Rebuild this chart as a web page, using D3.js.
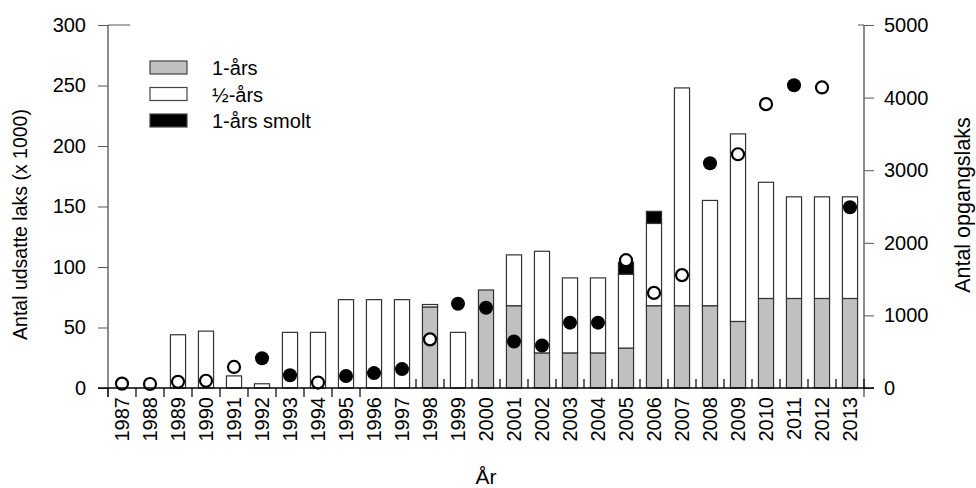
<!DOCTYPE html>
<html><head><meta charset="utf-8">
<script src="https://cdn.jsdelivr.net/npm/d3@7"></script>
<style>body{margin:0;background:#fff}svg{display:block}text{font-family:Arial,"Liberation Sans",sans-serif;fill:#000}</style>
</head><body>
<script>
const years = [1987,1988,1989,1990,1991,1992,1993,1994,1995,1996,1997,1998,1999,2000,2001,2002,2003,2004,2005,2006,2007,2008,2009,2010,2011,2012,2013];
const yearling = [0,0,0,0,0,0,0,0,0,0,0,67,0,81,68,29,29,29,33,68,68,68,55,74,74,74,74];
const halfYear = [0,0,44,47,10,3.5,46,46,73,73,73,2,46,0,42,84,62,62,61,68,180,87,155,96,84,84,84];
const smolt = [0,0,0,0,0,0,0,0,0,0,0,0,0,0,0,0,0,0,10,10,0,0,0,0,0,0,0];
const returnsFilled = [null,null,null,null,null,410,175,null,165,205,260,null,1160,1105,640,585,900,900,null,null,null,3095,null,null,4170,null,2490];
const returnsOpen = [60,55,85,100,290,null,null,75,null,null,null,670,null,null,null,null,null,null,1760,1310,1555,null,3220,3910,null,4140,null];
const leftTicks = [0,50,100,150,200,250,300];
const rightTicks = [0,1000,2000,3000,4000,5000];
const seriesNames = ["1-års","½-års","1-års smolt"];
const seriesFill = ["#c0c0c0","#ffffff","#000000"];

const W=976,H=488, L=108, R=864, T=25, B=388;
const svg=d3.select("body").append("svg").attr("width",W).attr("height",H);
const x=d3.scaleBand().domain(years).range([L,R]).paddingInner(0.46).paddingOuter(0.23);
const y=d3.scaleLinear().domain([0,300]).range([B,T]);
const y2=d3.scaleLinear().domain([0,5000]).range([B,T]);

const stackData = years.map((yr,i)=>({year:yr, a:yearling[i], b:halfYear[i], c:smolt[i]}));
const stacked = d3.stack().keys(["a","b","c"])(stackData);
stacked.forEach((s,si)=>{
  svg.append("g").selectAll("rect").data(s.filter(d=>d[1]-d[0]>0)).join("rect")
    .attr("x",d=>x(d.data.year)).attr("width",x.bandwidth())
    .attr("y",d=>y(d[1])).attr("height",d=>y(d[0])-y(d[1]))
    .attr("fill",seriesFill[si]).attr("stroke","#333").attr("stroke-width",1.2);
});

// circles
const cx=d=>x(d.year)+x.bandwidth()/2;
const openD=years.map((yr,i)=>({year:yr,v:returnsOpen[i]})).filter(d=>d.v!=null);
const fillD=years.map((yr,i)=>({year:yr,v:returnsFilled[i]})).filter(d=>d.v!=null);
svg.append("g").selectAll("circle").data(openD).join("circle")
  .attr("cx",cx).attr("cy",d=>y2(d.v)).attr("r",6).attr("fill","#fff").attr("stroke","#000").attr("stroke-width",2.2);
svg.append("g").selectAll("circle").data(fillD).join("circle")
  .attr("cx",cx).attr("cy",d=>y2(d.v)).attr("r",7).attr("fill","#000");

// left axis
const ga=svg.append("g").attr("transform",`translate(${L},0)`)
  .call(d3.axisLeft(y).tickValues(leftTicks).tickSize(10).tickPadding(12));
ga.select(".domain").remove();
ga.selectAll(".tick line").attr("stroke","#555");
ga.selectAll("text").style("font-size","20px");
svg.append("line").attr("x1",L).attr("x2",L).attr("y1",T).attr("y2",B+9).attr("stroke","#666").attr("stroke-width",1.5);
svg.append("line").attr("x1",L).attr("x2",L+22).attr("y1",y(300)).attr("y2",y(300)).attr("stroke","#555");

// right axis
const gb=svg.append("g").attr("transform",`translate(${R},0)`)
  .call(d3.axisRight(y2).tickValues(rightTicks).tickFormat(d3.format("d")).tickSize(10).tickPadding(10));
gb.select(".domain").remove();
gb.selectAll(".tick line").attr("stroke","#555");
gb.selectAll("text").style("font-size","20px");
svg.append("line").attr("x1",R).attr("x2",R).attr("y1",T).attr("y2",B+9).attr("stroke","#666").attr("stroke-width",1.5);
svg.append("line").attr("x1",R-6).attr("x2",R).attr("y1",y2(5000)).attr("y2",y2(5000)).attr("stroke","#555");

// bottom axis
svg.append("line").attr("x1",L-10).attr("x2",R+10).attr("y1",B).attr("y2",B).attr("stroke","#000").attr("stroke-width",1.3);
const step=x.step();
const bounds=d3.range(years.length+1).map(k=>L+k*step);
svg.append("g").selectAll("line").data(bounds).join("line")
  .attr("x1",d=>d).attr("x2",d=>d)
  .attr("y1",(d,k)=>k<=10?B:B-9).attr("y2",(d,k)=>k<10?B+9:B)
  .attr("stroke","#000").attr("stroke-width",1.2);
const gx=svg.append("g").attr("transform",`translate(0,${B})`)
  .call(d3.axisBottom(x).tickSize(0).tickPadding(0));
gx.select(".domain").remove();
gx.selectAll("text").style("font-size","20px")
  .attr("transform","rotate(-90)").attr("text-anchor","end").attr("dy","0.35em").attr("x",-9).attr("y",0);

// axis titles
svg.append("text").attr("transform",`translate(27,${(T+B)/2+18}) rotate(-90)`).attr("text-anchor","middle").style("font-size","19.5px").text("Antal udsatte laks (x 1000)");
svg.append("text").attr("transform",`translate(970,${205}) rotate(-90)`).attr("text-anchor","middle").style("font-size","21.5px").text("Antal opgangslaks");
svg.append("text").attr("x",486).attr("y",484).attr("text-anchor","middle").style("font-size","21px").text("År");

// legend
const lg=svg.append("g");
seriesNames.forEach((n,i)=>{
  const yy=61+i*26.5;
  lg.append("rect").attr("x",150).attr("y",yy).attr("width",37).attr("height",13).attr("fill",seriesFill[i]).attr("stroke","#444").attr("stroke-width",1.2);
  lg.append("text").attr("x",212).attr("y",yy+14).style("font-size","20px").text(n);
});
</script>
</body></html>
